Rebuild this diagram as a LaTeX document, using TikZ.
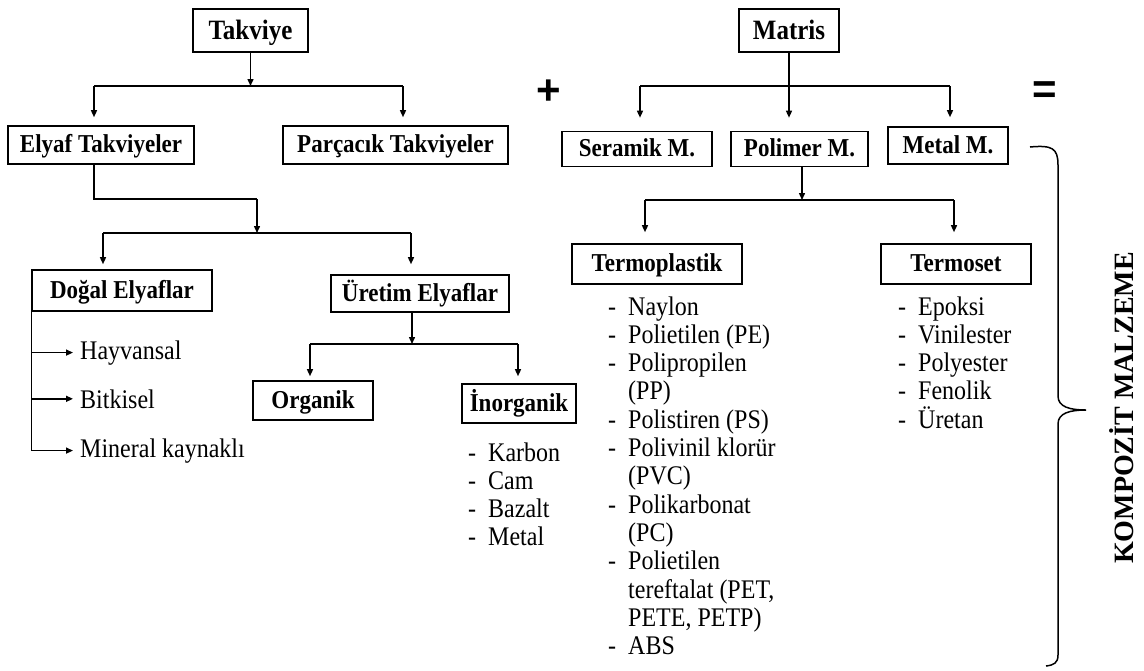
\documentclass[tikz,border=0pt]{standalone}
\usepackage{graphicx}
\usepackage{fontspec}
\setmainfont{Liberation Serif}
\newfontfamily\signfont{Liberation Sans}
\usetikzlibrary{arrows.meta}
\newcommand\lidash{\makebox[20pt][l]{-}}
\newcommand\tl[1]{\scalebox{1}[1.12]{#1}}
\begin{document}
\begin{tikzpicture}[x=1pt,y=-1pt,
  box/.style={draw,line width=1.6pt,inner sep=0pt,text height=15.5pt,text depth=0pt,font=\fontsize{23}{27}\selectfont\bfseries},
  topbox/.style={box,text height=17pt,font=\fontsize{25}{30}\selectfont\bfseries},
  conn/.style={line width=1.4pt},
  arr/.style={conn,-{Triangle[length=7pt,width=6pt]}},
  item/.style={anchor=base west,inner sep=0pt,font=\fontsize{24}{28}\selectfont},
  sign/.style={inner sep=0pt,font=\fontsize{42}{42}\selectfont\signfont\bfseries},
]
\useasboundingbox (0,0) rectangle (1144,670);

% ---------- left tree ----------
\node[topbox,minimum width=115pt,minimum height=43pt] (takviye) at (250.5,30.5) {\tl{Takviye}};
\node[box,minimum width=186pt,minimum height=38pt] (elyaf) at (101,145) {\tl{Elyaf Takviyeler}};
\node[box,minimum width=225pt,minimum height=38pt] (parcacik) at (395.5,145) {\tl{Parçacık Takviyeler}};
\node[box,minimum width=180pt,minimum height=41pt] (dogal) at (122,290.5) {\tl{Doğal Elyaflar}};
\node[box,minimum width=178pt,minimum height=37pt] (uretim) at (420,293.5) {\tl{Üretim Elyaflar}};
\node[box,minimum width=120pt,minimum height=39pt] (organik) at (313,400.5) {\tl{Organik}};
\node[box,minimum width=114pt,minimum height=39pt] (inorganik) at (519,403.5) {\tl{İnorganik}};

\node[item] (hay) at (80,359) {\tl{Hayvansal}};
\node[item] (bit) at (80,408) {\tl{Bitkisel}};
\node[item] (min) at (80,457) {\tl{Mineral kaynaklı}};

\coordinate (j1L) at (94,86);
\coordinate (j1R) at (403,86);
\draw[arr] (takviye.south) -- (takviye.south |- j1L);
\draw[conn] (j1L) -- (j1R);
\draw[arr,shorten >=8pt] (j1L) -- (j1L |- elyaf.north);
\draw[arr,shorten >=8pt] (j1R) -- (j1R |- parcacik.north);

\coordinate (j2a) at (94,199);
\coordinate (j2b) at (257,199);
\coordinate (j3L) at (103,233);
\coordinate (j3R) at (411,233);
\draw[conn] (j2a |- elyaf.south) -- (j2a) -- (j2b);
\draw[arr] (j2b) -- (j2b |- j3L);
\draw[conn] (j3L) -- (j3R);
\draw[arr,shorten >=5pt] (j3L) -- (j3L |- dogal.north);
\draw[arr,shorten >=10pt] (j3R) -- (j3R |- uretim.north);

\draw[conn] (dogal.south west) -- (dogal.south west |- min.west);
\draw[arr,shorten >=7pt] (dogal.south west |- hay.west) -- (hay.west);
\draw[arr,shorten >=7pt] (dogal.south west |- bit.west) -- (bit.west);
\draw[arr,shorten >=7pt] (dogal.south west |- min.west) -- (min.west);

\coordinate (j4m) at (412,344);
\coordinate (j4L) at (310,344);
\coordinate (j4R) at (518,344);
\draw[arr] (j4m |- uretim.south) -- (j4m);
\draw[conn] (j4L) -- (j4R);
\draw[arr,shorten >=4pt] (j4L) -- (j4L |- organik.north);
\draw[arr,shorten >=7pt] (j4R) -- (j4R |- inorganik.north);

\foreach \t [count=\i from 0] in {Karbon,Cam,Bazalt,Metal}
  \node[item] (inor\i) at (468,{461+28.3*\i}) {\tl{\lidash\t}};

% ---------- signs ----------
\node[sign] (plus) at (549,92) {+};
\node[sign] (equal) at (1045,93) {=};

% ---------- right tree ----------
\node[topbox,minimum width=100pt,minimum height=43pt] (matris) at (789,30.5) {\tl{Matris}};
\node[box,minimum width=150pt,minimum height=35pt] (seramik) at (637,149) {\tl{Seramik M.}};
\node[box,minimum width=137pt,minimum height=35pt] (polimer) at (799.5,149) {\tl{Polimer M.}};
\node[box,minimum width=120pt,minimum height=37pt] (metal) at (948,145.5) {\tl{Metal M.}};
\node[box,minimum width=170pt,minimum height=40pt] (termop) at (657,264) {\tl{Termoplastik}};
\node[box,minimum width=150pt,minimum height=40pt] (termos) at (956,264) {\tl{Termoset}};

\coordinate (k1L) at (640,86);
\coordinate (k1R) at (950,86);
\draw[conn] (k1L) -- (k1R);
\draw[arr,shorten >=13pt] (matris.south) -- (matris.south |- seramik.north);
\draw[arr,shorten >=13pt] (k1L) -- (k1L |- seramik.north);
\draw[arr,shorten >=9pt] (k1R) -- (k1R |- metal.north);

\coordinate (k2m) at (802,200);
\coordinate (k2L) at (645,200);
\coordinate (k2R) at (954,200);
\draw[arr] (k2m |- polimer.south) -- (k2m);
\draw[conn] (k2L) -- (k2R);
\draw[arr,shorten >=11pt] (k2L) -- (k2L |- termop.north);
\draw[arr,shorten >=11pt] (k2R) -- (k2R |- termos.north);

\foreach \d/\t [count=\i from 0] in {1/Naylon,1/Polietilen (PE),1/Polipropilen,0/(PP),1/Polistiren (PS),1/Polivinil klorür,0/(PVC),1/Polikarbonat,0/(PC),1/Polietilen,0/tereftalat (PET{,},0/PETE{,} PETP),1/ABS}
  \node[item] (tp\i) at ({628-20*\d},{315+28.3*\i}) {\tl{\ifnum\d=1 \lidash\fi\t}};

\foreach \t [count=\i from 0] in {Epoksi,Vinilester,Polyester,Fenolik,Üretan}
  \node[item] (ts\i) at (898,{315+28.3*\i}) {\tl{\lidash\t}};

% ---------- brace and result ----------
\draw[line width=1.5pt] (1030,147) .. controls (1052,145) and (1058,148) .. (1058,165)
  -- (1058,396) .. controls (1058,407) and (1070,410) .. (1086,410)
  .. controls (1070,410) and (1058,413) .. (1058,424)
  -- (1058,655) .. controls (1058,663) and (1054,665) .. (1046,666);
\node[rotate=90,inner sep=0pt,font=\fontsize{28}{30}\selectfont\bfseries] (komp) at (1122,408) {KOMPOZİT MALZEME};
\end{tikzpicture}
\end{document}
